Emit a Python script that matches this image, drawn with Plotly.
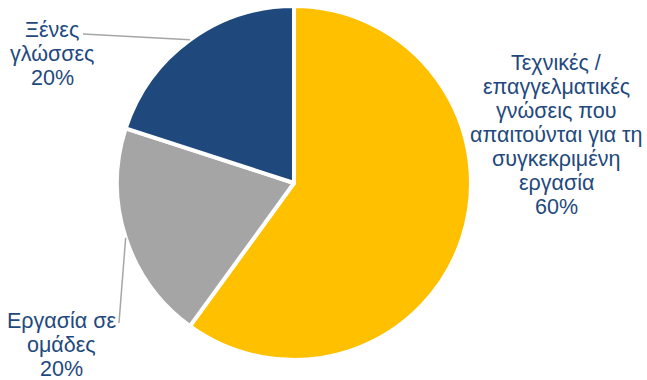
import math
import plotly.graph_objects as go

labels = ["Τεχνικές /\nεπαγγελματικές\nγνώσεις που\nαπαιτούνται για τη\nσυγκεκριμένη\nεργασία",
          "Εργασία σε\nομάδες",
          "Ξένες\nγλώσσες"]
values = [60, 20, 20]
colors = ["#FFC000", "#A5A5A5", "#1F497D"]

W, H = 647, 380
cx, cy, r = 294, 183, 177

fig = go.Figure(go.Pie(
    labels=[l.replace("\n", " ") for l in labels], values=values, sort=False,
    direction="clockwise", rotation=0,
    marker=dict(colors=colors, line=dict(color="white", width=4)),
    textinfo="none", hoverinfo="label+percent", showlegend=False,
    domain=dict(x=[(cx - r) / W, (cx + r) / W], y=[1 - (cy + r) / H, 1 - (cy - r) / H]),
))

# label block centres (pixels) and leader-line end points
label_pos = [(556, 135), (61, 345), (52, 54)]
line_ends = [None, (119, 323), (83, 34)]
line_gap = 24

total = sum(values)
cum = 0
for i, v in enumerate(values):
    mid = (cum + v / 2) / total * 2 * math.pi
    cum += v
    pct = round(v / total * 100)
    lines = labels[i].split("\n") + [f"{pct}%"]
    lx, ly = label_pos[i]
    n = len(lines)
    for k, t in enumerate(lines):
        yy = ly + (k - (n - 1) / 2) * line_gap
        fig.add_annotation(x=lx / W, y=1 - yy / H, xref="paper", yref="paper",
                           text=t, showarrow=False,
                           xanchor="center", yanchor="middle", align="center",
                           font=dict(family="Liberation Sans, Arial", size=21.5, color="#1F497D"))
    if line_ends[i] is not None:
        ex = cx + r * math.sin(mid)
        ey = cy - r * math.cos(mid)
        ox, oy = line_ends[i]
        fig.add_shape(type="line", xref="paper", yref="paper",
                      x0=ex / W, y0=1 - ey / H, x1=ox / W, y1=1 - oy / H,
                      line=dict(color="#A6A6A6", width=1.5))

fig.update_layout(width=W, height=H, margin=dict(l=0, r=0, t=0, b=0),
                  paper_bgcolor="white", plot_bgcolor="white")
fig.write_html("out.html")
